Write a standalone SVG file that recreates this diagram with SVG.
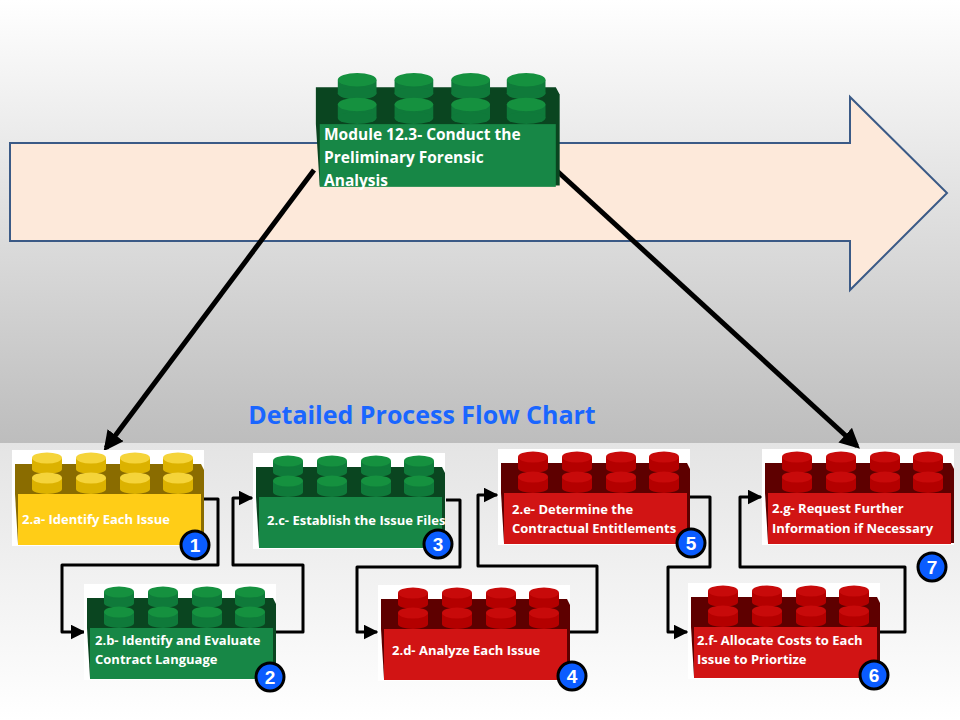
<svg xmlns="http://www.w3.org/2000/svg" xmlns:xlink="http://www.w3.org/1999/xlink" width="960" height="720" viewBox="0 0 960 720">
<defs>
<linearGradient id="bgTop" x1="0" y1="0" x2="0" y2="1"><stop offset="0" stop-color="#ffffff"/><stop offset="1" stop-color="#bdbdbd"/></linearGradient>
<linearGradient id="bgBot" x1="0" y1="0" x2="0" y2="1"><stop offset="0" stop-color="#e4e4e4"/><stop offset="1" stop-color="#ffffff"/></linearGradient>
<marker id="ah" viewBox="0 0 10 10" refX="8" refY="5" markerWidth="4" markerHeight="4" orient="auto"><path d="M0,0 L10,5 L0,10 z" fill="#000"/></marker>
<marker id="ahs" viewBox="0 0 10 10" refX="9" refY="5" markerWidth="5" markerHeight="5" orient="auto"><path d="M0,0 L10,5 L0,10 z" fill="#000"/></marker>
<g id="stud"><rect x="-15" y="0" width="30" height="11" style="fill:var(--sb)"/><ellipse cx="0" cy="11" rx="15" ry="5" style="fill:var(--sb)"/><ellipse cx="0" cy="0" rx="15" ry="5.5" style="fill:var(--st)"/></g>
<g id="brick">
<rect x="0" y="0" width="192" height="96" style="fill:var(--bg)"/>
<polygon points="3,14 189,14 192,20 192,94 6,94 3,44" style="fill:var(--top)"/>
<rect x="6" y="44" width="183" height="51" style="fill:var(--front)"/>
<use xlink:href="#stud" x="35" y="8"/><use xlink:href="#stud" x="79" y="8"/><use xlink:href="#stud" x="123" y="8"/><use xlink:href="#stud" x="166" y="8"/>
<use xlink:href="#stud" x="35" y="28"/><use xlink:href="#stud" x="79" y="28"/><use xlink:href="#stud" x="123" y="28"/><use xlink:href="#stud" x="166" y="28"/>
</g>
</defs>
<style>
.y{--bg:#fff;--top:#8a6c00;--front:#ffcd17;--sb:#dcb200;--st:#f5d43a}
.g{--bg:#fff;--top:#0a4520;--front:#178746;--sb:#0f7a3a;--st:#15913f}
.r{--bg:#fff;--top:#5e0000;--front:#d11414;--sb:#b40000;--st:#c80a0a}
#module{--bg:none}
.lbl{font-family:"Open Sans","Liberation Sans",sans-serif;font-weight:bold;font-size:13px;fill:#fff}
.badge circle{fill:#0a5cff;stroke:#000;stroke-width:3}
.badge text{font-family:"Liberation Sans",sans-serif;font-weight:bold;font-size:19px;fill:#fff;text-anchor:middle}
.flow{fill:none;stroke:#000;stroke-width:3;stroke-linejoin:round}
</style>
<rect x="0" y="0" width="960" height="443" fill="url(#bgTop)"/>
<rect x="0" y="443" width="960" height="277" fill="url(#bgBot)"/>
<polygon points="10,143 850,143 850,97 947,193 850,290 850,241 10,241" fill="#fde9da" stroke="#3b5a86" stroke-width="2"/>
<text x="422" y="424" text-anchor="middle" font-family="'Open Sans','Liberation Sans',sans-serif" font-weight="bold" font-size="25" fill="#1a66ff">Detailed Process Flow Chart</text>
<g id="connectors">
<line x1="314" y1="170" x2="106" y2="448" stroke="#000" stroke-width="5" marker-end="url(#ah)"/>
<line x1="556" y1="170" x2="857" y2="446" stroke="#000" stroke-width="5" marker-end="url(#ah)"/>
<polyline class="flow" points="204,499 218,499 218,565 62,565 62,632 84,632" marker-end="url(#ahs)"/>
<polyline class="flow" points="276,632 303,632 303,565 233,565 233,498 252,498" marker-end="url(#ahs)"/>
<polyline class="flow" points="446,500 460,500 460,567 357,567 357,632 377,632" marker-end="url(#ahs)"/>
<polyline class="flow" points="570,632 597,632 597,566 478,566 478,495 497,495" marker-end="url(#ahs)"/>
<polyline class="flow" points="690,497 710,497 710,567 668,567 668,632 687,632" marker-end="url(#ahs)"/>
<polyline class="flow" points="880,632 905,632 905,567 740,567 740,497 761,497" marker-end="url(#ahs)"/>
</g>
<g id="module" class="g">
<g transform="translate(312,70) scale(1.29,1.23)"><use xlink:href="#brick"/></g>
<text class="lbl" style="font-size:15.5px"><tspan x="324" y="140">Module 12.3- Conduct the</tspan><tspan x="324" y="163">Preliminary Forensic</tspan><tspan x="324" y="186">Analysis</tspan></text>
</g>
<g id="n1" class="y"><use xlink:href="#brick" x="12" y="450"/><text class="lbl" x="22" y="524">2.a- Identify Each Issue</text>
<g class="badge"><circle cx="195" cy="545" r="14"/><text x="195" y="552">1</text></g></g>
<g id="n2" class="g"><use xlink:href="#brick" x="84" y="584"/><text class="lbl"><tspan x="95" y="645">2.b- Identify and Evaluate</tspan><tspan x="95" y="664">Contract Language</tspan></text>
<g class="badge"><circle cx="270" cy="677" r="14"/><text x="270" y="684">2</text></g></g>
<g id="n3" class="g"><use xlink:href="#brick" x="253" y="453"/><text class="lbl" x="267" y="525">2.c- Establish the Issue Files</text>
<g class="badge"><circle cx="438" cy="544" r="14"/><text x="438" y="551">3</text></g></g>
<g id="n4" class="r"><use xlink:href="#brick" x="378" y="585"/><text class="lbl" x="392" y="655">2.d- Analyze Each Issue</text>
<g class="badge"><circle cx="572" cy="676" r="14"/><text x="572" y="683">4</text></g></g>
<g id="n5" class="r"><use xlink:href="#brick" x="498" y="449"/><text class="lbl"><tspan x="512" y="514">2.e- Determine the</tspan><tspan x="512" y="533">Contractual  Entitlements</tspan></text>
<g class="badge"><circle cx="691" cy="543" r="14"/><text x="691" y="550">5</text></g></g>
<g id="n6" class="r"><use xlink:href="#brick" x="688" y="583"/><text class="lbl"><tspan x="697" y="645">2.f- Allocate Costs to Each</tspan><tspan x="697" y="664">Issue to Priortize</tspan></text>
<g class="badge"><circle cx="874" cy="675" r="14"/><text x="874" y="682">6</text></g></g>
<g id="n7" class="r"><use xlink:href="#brick" x="762" y="449"/><text class="lbl"><tspan x="772" y="513">2.g- Request Further</tspan><tspan x="772" y="533">Information if Necessary</tspan></text>
<g class="badge"><circle cx="932" cy="567" r="14"/><text x="932" y="574">7</text></g></g>
</svg>
